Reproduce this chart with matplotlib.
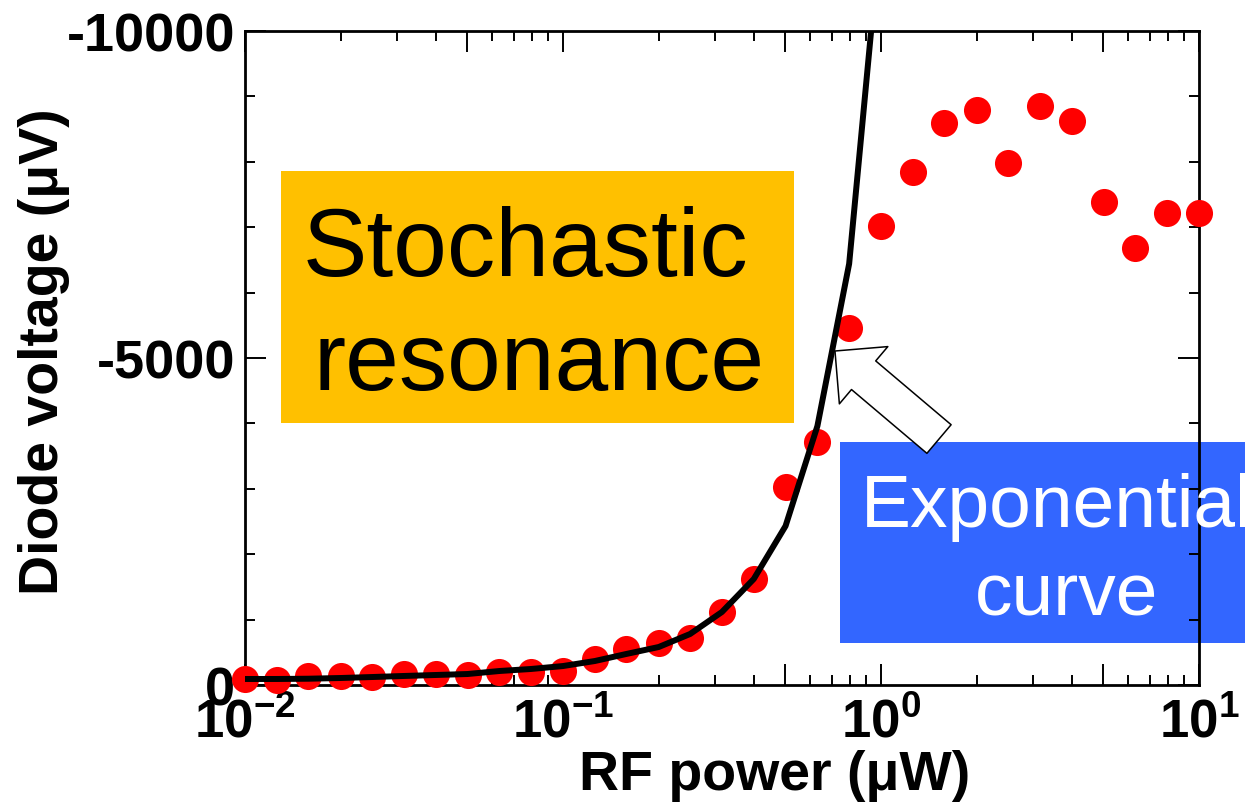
import matplotlib
matplotlib.use("Agg")
import matplotlib.pyplot as plt
from matplotlib.patches import Rectangle
from matplotlib.ticker import NullFormatter

plt.rcParams['font.family'] = ['Liberation Sans', 'DejaVu Sans']
plt.rcParams['mathtext.fontset'] = 'custom'
plt.rcParams['mathtext.rm'] = 'Liberation Sans'
plt.rcParams['mathtext.bf'] = 'Liberation Sans:bold'
plt.rcParams['mathtext.default'] = 'bf'
plt.rcParams['axes.unicode_minus'] = False

# measured points (RF power in uW, diode voltage in uV)
power = [0.01, 0.0126, 0.0158, 0.02, 0.0251, 0.0316, 0.0398, 0.0501, 0.0631, 0.0794,
         0.1, 0.126, 0.158, 0.2, 0.251, 0.316, 0.398, 0.501, 0.631, 0.794,
         1.0, 1.26, 1.58, 2.0, 2.51, 3.16, 3.98, 5.01, 6.31, 7.94, 10.0]
voltage = [-92, -76, -138, -138, -122, -168, -168, -153, -199, -199,
           -214, -398, -550, -642, -719, -1116, -1621, -3027, -3715, -5459,
           -7018, -7844, -8593, -8792, -7982, -8853, -8624, -7385, -6682, -7217, -7217]

# exponential fit curve
fit_power = power[:21]
fit_voltage = [-92, -92, -96, -107, -122, -138, -153, -168, -214, -245,
               -290, -367, -474, -581, -780, -1116, -1621, -2431, -3960, -6440,
               -11600]

xticks_major = [0.01, 0.05, 0.1, 0.5, 1, 5, 10]
xtick_labels = [r'$10^{-2}$', '', r'$10^{-1}$', '', r'$10^{0}$', '', r'$10^{1}$']
xticks_minor = [m * d for d in [0.01, 0.1, 1] for m in [2, 3, 4, 6, 7, 8, 9]]
yticks_major = [0, -5000, -10000]
ytick_labels = ['0', '-5000', '-10000']
yticks_minor = [-1000, -2000, -3000, -4000, -6000, -7000, -8000, -9000]

W, H = 1245, 804
fig = plt.figure(figsize=(W / 100, H / 100), dpi=100)
ax = fig.add_axes([245 / W, 118 / H, 954 / W, 654 / H])


def px(x, y):
    # figure pixel (from top-left) -> figure fraction
    return x / W, 1 - y / H


ax.scatter(power, voltage, s=380, color='#ff0000', linewidths=0, zorder=3, clip_on=False)
ax.plot(fit_power, fit_voltage, color='black', lw=4.3, zorder=4, solid_capstyle='round')

ax.set_xscale('log')
ax.set_xlim(0.01, 10)
ax.set_ylim(0, -10000)

ax.set_xticks(xticks_major)
ax.set_xticklabels(xtick_labels)
ax.set_xticks(xticks_minor, minor=True)
ax.xaxis.set_minor_formatter(NullFormatter())
ax.set_yticks(yticks_major)
ax.set_yticklabels(ytick_labels, fontweight='bold')
ax.set_yticks(yticks_minor, minor=True)

ax.tick_params(which='both', direction='in', top=True, right=True, width=1.4)
ax.tick_params(which='major', length=15)
ax.tick_params(which='minor', length=7.5)
ax.tick_params(axis='x', labelsize=38, pad=9)
ax.tick_params(axis='y', labelsize=39, pad=7)
for sp in ax.spines.values():
    sp.set_linewidth(2)

ax.set_xlabel('RF power (μW)', fontsize=40, fontweight='bold', va='baseline')
ax.xaxis.set_label_coords((775 - 245) / 954, (686 - 790) / 654)
ax.set_ylabel('Diode voltage (μV)', fontsize=40, fontweight='bold', va='baseline')
ax.yaxis.set_label_coords((58 - 245) / 954, (686 - 352) / 654)

# annotation boxes
x0, y1 = px(281, 172)
x1, y0 = px(794, 424)
ax.add_patch(Rectangle((x0, y0), x1 - x0, y1 - y0, transform=fig.transFigure,
                       facecolor='#ffc000', edgecolor='none', zorder=1, clip_on=False))
x0, y1 = px(840, 443)
x1, y0 = px(1320, 644)
ax.add_patch(Rectangle((x0, y0), x1 - x0, y1 - y0, transform=fig.transFigure,
                       facecolor='#3366ff', edgecolor='none', zorder=1, clip_on=False))

ax.text(*px(303, 276), 'Stochastic', transform=fig.transFigure, fontsize=69.5,
        color='black', ha='left', va='baseline', zorder=5)
ax.text(*px(313, 390), 'resonance', transform=fig.transFigure, fontsize=69.5,
        color='black', ha='left', va='baseline', zorder=5)
ax.text(*px(861, 527), 'Exponential', transform=fig.transFigure, fontsize=54,
        color='white', ha='left', va='baseline', zorder=5, clip_on=False)
ax.text(*px(975, 616), 'curve', transform=fig.transFigure, fontsize=54,
        color='white', ha='left', va='baseline', zorder=5)

ax.annotate('', xy=(0.7166, -5107), xytext=(1.522, -3761),
            arrowprops=dict(arrowstyle='simple,head_length=27,head_width=54,tail_width=27',
                            mutation_scale=1, fc='white', ec='black', lw=1.1,
                            shrinkA=0, shrinkB=0),
            zorder=6)

fig.savefig('out.png', dpi=100)
